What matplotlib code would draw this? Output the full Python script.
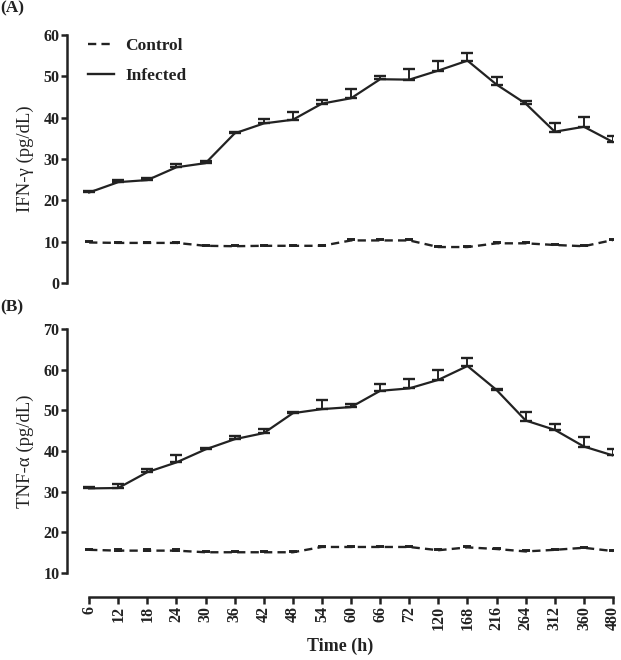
import matplotlib
matplotlib.use("Agg")
import matplotlib.pyplot as plt
from matplotlib.lines import Line2D
import numpy as np

plt.rcParams['font.family'] = ['Liberation Serif', 'DejaVu Serif']

time_labels = ["6", "12", "18", "24", "30", "36", "42", "48", "54", "60", "66", "72",
               "120", "168", "216", "264", "312", "360", "480"]

ifn_infected = [21.9, 24.4, 24.9, 28.0, 29.0, 36.2, 38.6, 39.5, 43.4, 44.7, 49.3, 49.2,
                51.4, 53.8, 48.0, 43.4, 36.6, 37.8, 34.1]
ifn_infected_err = [0.4, 0.5, 0.4, 0.9, 0.6, 0.4, 1.0, 1.9, 0.8, 2.3, 0.8, 2.5,
                    2.4, 1.9, 1.8, 0.6, 2.0, 2.3, 1.5]
ifn_control = [9.8, 9.7, 9.7, 9.7, 9.0, 8.9, 9.0, 9.0, 9.0, 10.3, 10.3, 10.3,
               8.7, 8.7, 9.6, 9.6, 9.2, 8.9, 10.4]
ifn_control_err = [0.3] * 19

tnf_infected = [30.8, 30.9, 34.8, 37.2, 40.4, 42.9, 44.4, 49.3, 50.3, 50.8, 54.8, 55.4,
                57.5, 60.9, 55.0, 47.5, 45.2, 41.1, 38.9]
tnf_infected_err = [0.4, 0.9, 0.7, 1.7, 0.4, 0.9, 1.0, 0.4, 2.2, 0.8, 1.7, 2.3,
                    2.4, 1.9, 0.3, 2.2, 1.5, 2.3, 1.6]
tnf_control = [15.7, 15.5, 15.5, 15.5, 15.1, 15.1, 15.1, 15.1, 16.4, 16.4, 16.4, 16.4,
               15.6, 16.3, 15.9, 15.3, 15.7, 16.2, 15.4]
tnf_control_err = [0.3] * 19

W, H = 621, 660
fig = plt.figure(figsize=(W / 100, H / 100), dpi=100)

col = '#222222'
dash = (0, (3.5, 2.2))
x = np.arange(len(time_labels))
left = 67 / W
right = 613 / W
axA = fig.add_axes([left, (H - 283) / H, right - left, (283 - 35) / H])
axB = fig.add_axes([left, (H - 573) / H, right - left, (573 - 329) / H])

def draw(ax, inf, inf_err, ctl, ctl_err):
    n = len(inf)
    ax.errorbar(x, ctl, yerr=[np.zeros(n), ctl_err], color=col, lw=1.7,
                linestyle=dash, elinewidth=1.4, capsize=3.0, capthick=1.4)
    ax.errorbar(x, inf, yerr=[np.zeros(n), inf_err], color=col, lw=1.6,
                linestyle='-', elinewidth=1.4, capsize=4.0, capthick=1.7)
    ax.set_xlim(-0.76, 18.0)
    for s in ['top', 'right']:
        ax.spines[s].set_visible(False)
    ax.spines['left'].set_linewidth(1.8)
    ax.spines['left'].set_color(col)
    ax.tick_params(axis='y', direction='out', length=4.5, width=1.8, colors=col,
                   labelsize=11, pad=1)
    ax.patch.set_alpha(0)

# Panel A
draw(axA, ifn_infected, ifn_infected_err, ifn_control, ifn_control_err)
axA.set_ylim(0, 60)
axA.set_yticks(np.arange(0, 61, 10))
axA.set_yticklabels([str(v) for v in range(0, 61, 10)], fontweight='bold', fontsize=11.5)
axA.spines['bottom'].set_visible(False)
axA.set_xticks([])
axA.set_ylabel('IFN-γ (pg/dL)', fontsize=13.5, color=col, labelpad=7)
handles = [Line2D([], [], color=col, lw=1.7, linestyle=dash),
           Line2D([], [], color=col, lw=1.7, linestyle='-')]
leg = axA.legend(handles, ['Control', 'Infected'], loc='upper left',
                 bbox_to_anchor=(0.01, 1.05), frameon=False,
                 handlelength=1.5, handletextpad=0.65, labelspacing=0.8,
                 prop={'weight': 'bold', 'size': 12.5})
for t in leg.get_texts():
    t.set_color(col)

# Panel B
draw(axB, tnf_infected, tnf_infected_err, tnf_control, tnf_control_err)
axB.set_ylim(10, 70)
axB.set_yticks(np.arange(10, 71, 10))
axB.set_yticklabels([str(v) for v in range(10, 71, 10)], fontweight='bold', fontsize=11.5)
axB.spines['bottom'].set_position(('outward', 17))
axB.spines['bottom'].set_bounds(0, 18)
axB.spines['bottom'].set_linewidth(1.8)
axB.spines['bottom'].set_color(col)
axB.set_xticks(x)
axB.set_xticklabels(time_labels, rotation=90, fontweight='bold', fontsize=11.5)
axB.tick_params(axis='x', direction='out', length=5, width=1.8, colors=col, pad=2)
axB.set_ylabel('TNF-α (pg/dL)', fontsize=13.5, color=col, labelpad=7)
axB.set_xlabel('Time (h)', fontsize=13, fontweight='bold', color=col, labelpad=5)

fig.text(0.0, 0.999, '(A)', fontsize=12.5, fontweight='bold', color=col, va='top', ha='left')
fig.text(0.0, (H - 299) / H, '(B)', fontsize=12.5, fontweight='bold', color=col, va='top', ha='left')

fig.savefig('out.png', dpi=100)
